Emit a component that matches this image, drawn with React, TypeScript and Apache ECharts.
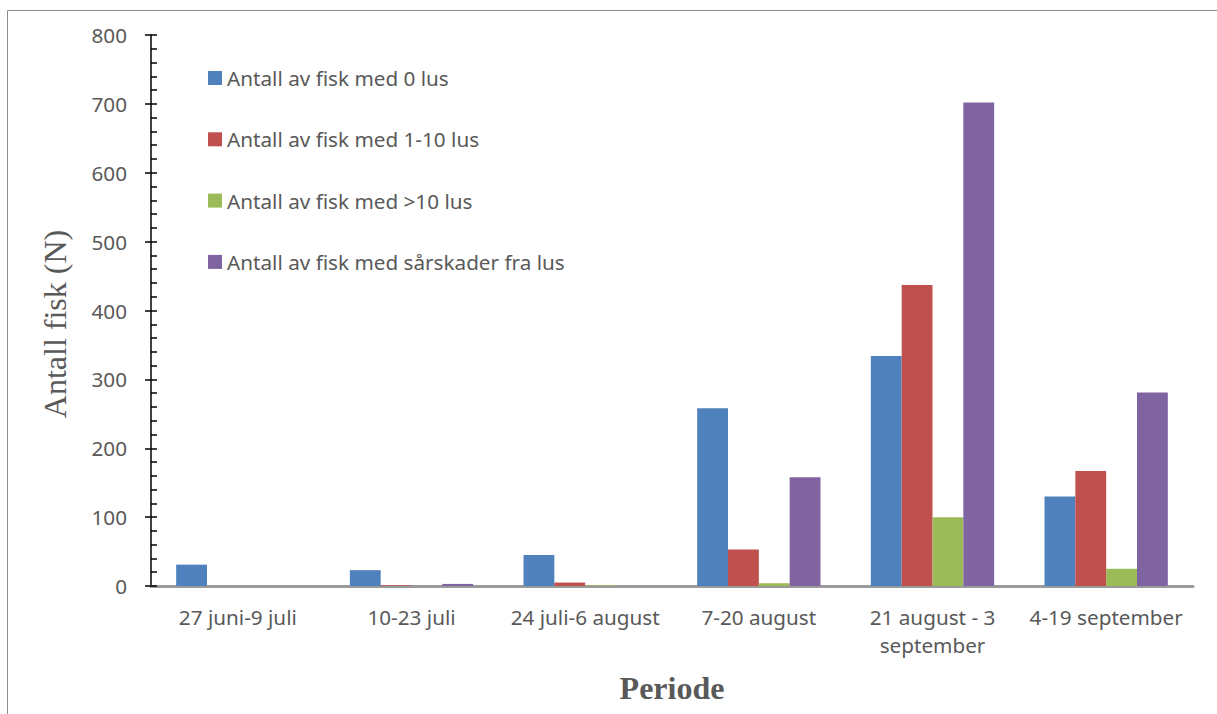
import React, { useEffect, useRef } from "react";
import * as echarts from "echarts";

const categories = [
  "27 juni-9 juli",
  "10-23 juli",
  "24 juli-6 august",
  "7-20 august",
  "21 august - 3\nseptember",
  "4-19 september",
];
const seriesNames = [
  "Antall av fisk med 0 lus",
  "Antall av fisk med 1-10 lus",
  "Antall av fisk med >10 lus",
  "Antall av fisk med sårskader fra lus",
];
const lus0 = [31, 23, 45, 258, 334, 130];
const lus1to10 = [0, 1, 5, 53, 437, 167];
const lusOver10 = [0, 0, 1, 4, 100, 25];
const saarskader = [0, 3, 0, 158, 702, 281];
const colors = ["#4F81BD", "#C0504D", "#9BBB59", "#8064A2"];
const yAxisTitle = "Antall fisk (N)";
const xAxisTitle = "Periode";

const FONT = "Noto Sans";
const GRAY = "#595959";

export default function App() {
  const ref = useRef<HTMLDivElement>(null);
  useEffect(() => {
    if (!ref.current) return;
    const chart = echarts.init(ref.current, null, { renderer: "svg" });
    const values = [lus0, lus1to10, lusOver10, saarskader];
    chart.setOption({
      animation: false,
      backgroundColor: "#ffffff",
      graphic: [
        {
          type: "polyline",
          shape: { points: [[7.5, 720], [7.5, 10.5], [1230, 10.5]] },
          style: { stroke: "#8c8c8c", lineWidth: 1, fill: null },
          silent: true,
        },
        {
          type: "text",
          x: 55,
          y: 324,
          rotation: Math.PI / 2,
          style: {
            text: yAxisTitle,
            fontFamily: "Liberation Serif",
            fontSize: 32,
            fill: GRAY,
            align: "center",
            verticalAlign: "middle",
          },
          silent: true,
        },
      ],
      grid: { left: 151, right: 24, top: 35, bottom: 128, containLabel: false },
      legend: {
        orient: "vertical",
        left: 208,
        top: 67.5,
        padding: 0,
        itemWidth: 14,
        itemHeight: 14,
        itemGap: 40.3,
        icon: "rect",
        textStyle: { fontFamily: FONT, fontSize: 20.7, lineHeight: 21, color: GRAY },
        data: seriesNames,
      },
      xAxis: {
        type: "category",
        data: categories,
        name: xAxisTitle,
        nameLocation: "middle",
        nameGap: 86,
        nameTextStyle: {
          fontFamily: "Liberation Serif",
          fontWeight: "bold",
          fontSize: 32,
          color: GRAY,
        },
        axisLine: { lineStyle: { color: "#9a9a9a", width: 3 } },
        axisTick: { show: false },
        axisLabel: {
          interval: 0,
          fontFamily: FONT,
          fontSize: 20.7,
          color: GRAY,
          margin: 17,
          lineHeight: 28,
        },
      },
      yAxis: [
        {
          type: "value",
          min: 0,
          max: 800,
          interval: 100,
          axisLine: { show: true, lineStyle: { color: "#000", width: 1.5 } },
          axisTick: { show: true, length: 6, lineStyle: { color: "#000", width: 1.5 } },
          axisLabel: { fontFamily: FONT, fontSize: 20.7, color: GRAY, margin: 24 },
          splitLine: { show: false },
        },
        {
          type: "value",
          min: 0,
          max: 800,
          interval: 100,
          position: "left",
          offset: 0,
          axisLine: { show: false },
          axisTick: { show: true, inside: true, length: 6, lineStyle: { color: "#000", width: 1.5 } },
          minorTick: { show: true, splitNumber: 5, length: 6, lineStyle: { color: "#000", width: 1.5 } },
          axisLabel: { show: false },
          splitLine: { show: false },
        },
      ],
      series: seriesNames.map((name, i) => ({
        name,
        type: "bar",
        data: values[i],
        yAxisIndex: 0,
        barGap: "0%",
        barCategoryGap: "29%",
        itemStyle: { color: colors[i], borderWidth: 0 },
      })),
    });
    return () => chart.dispose();
  }, []);
  return <div ref={ref} style={{ width: 1217, height: 714, position: "absolute", left: 0, top: 0 }} />;
}
